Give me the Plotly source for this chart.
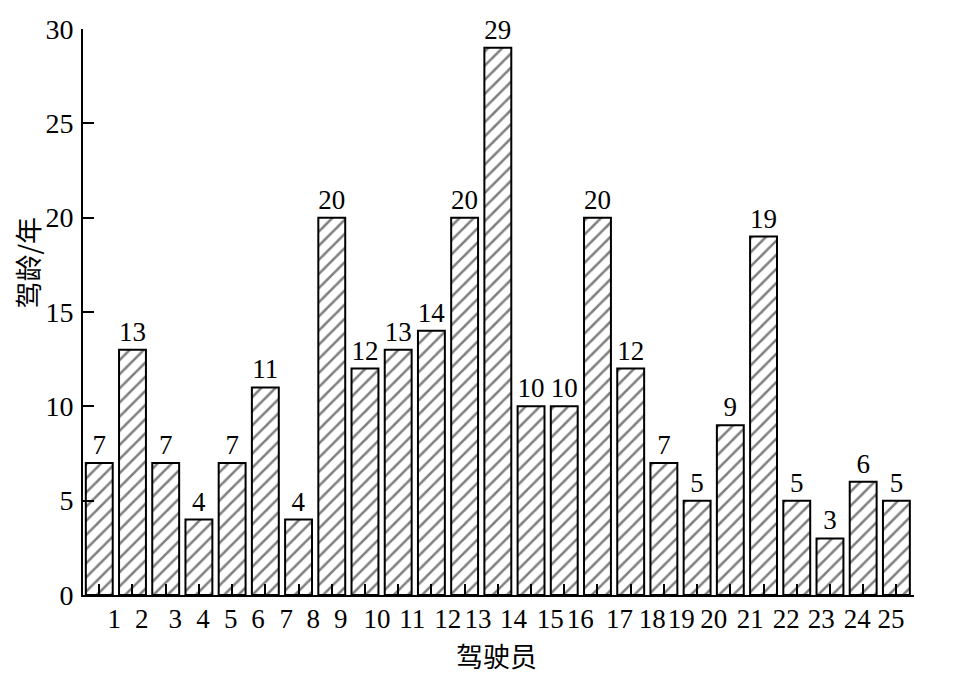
import plotly.graph_objects as go

drivers = list(range(1, 26))
driving_years = [7, 13, 7, 4, 7, 11, 4, 20, 12, 13, 14, 20, 29, 10, 10, 20, 12, 7, 5, 9, 19, 5, 3, 6, 5]
tick_labels = [str(d) for d in drivers]
# where the reference prints its x tick labels (in category units, slightly off-centre)
label_pos = [1.45, 2.28, 3.29, 4.12, 4.96, 5.78, 6.63, 7.44, 8.27, 9.36, 10.42, 11.49, 12.40,
             13.47, 14.58, 15.48, 16.66, 17.65, 18.52, 19.50, 20.60, 21.68, 22.74, 23.82, 24.84]
y_ticks = [0, 5, 10, 15, 20, 25, 30]

SERIF = "Liberation Serif"
CJK = "Noto Sans CJK SC"
FS = 27

fig = go.Figure()
fig.add_trace(go.Bar(
    x=drivers, y=driving_years,
    width=0.81,
    marker=dict(color="white",
                line=dict(color="black", width=2),
                pattern=dict(shape="/", fgcolor="black", bgcolor="white", size=10, solidity=0.25)),
    text=[str(v) for v in driving_years],
    textposition="outside",
    textfont=dict(family=SERIF, size=FS, color="black"),
    constraintext="none",
    cliponaxis=False,
    showlegend=False,
))

xr = [0.51, 25.53]
fig.update_layout(
    width=961, height=671,
    margin=dict(l=75, r=55, t=21, b=84),
    plot_bgcolor="white", paper_bgcolor="white",
    xaxis=dict(range=xr, tickmode="array", tickvals=drivers, showticklabels=False,
               ticks="inside", ticklen=11, tickwidth=1.5, tickcolor="black", automargin=False,
               showline=True, linecolor="black", linewidth=2, showgrid=False, zeroline=False),
    xaxis2=dict(range=xr, overlaying="x", anchor="y", side="bottom", automargin=False,
                tickmode="array", tickvals=label_pos, ticktext=tick_labels, tickangle=0,
                ticks="", showline=False, showgrid=False, zeroline=False,
                ticklabelstandoff=5,
                tickfont=dict(family=SERIF, size=FS, color="black")),
    yaxis=dict(range=[0, 30], tickmode="array", tickvals=y_ticks, automargin=False,
               ticks="inside", ticklen=11, tickwidth=2, tickcolor="black",
               showline=True, linecolor="black", linewidth=2, showgrid=False, zeroline=False,
               tickfont=dict(family=SERIF, size=28, color="black"), ticklabelstandoff=2),
    annotations=[
        dict(text="驾驶员", xref="paper", yref="paper", x=0.497, y=-0.107,
             xanchor="center", yanchor="middle", showarrow=False,
             font=dict(family=CJK, size=27, color="black")),
        dict(text="驾龄/年", xref="paper", yref="paper", x=-0.067, y=0.588,
             xanchor="center", yanchor="middle", textangle=-90, showarrow=False,
             font=dict(family=CJK, size=27, color="black")),
    ],
)
# invisible trace so xaxis2 is drawn
fig.add_trace(go.Scatter(x=[None], y=[None], xaxis="x2", yaxis="y", showlegend=False, hoverinfo="skip"))

fig.write_html("out.html")
